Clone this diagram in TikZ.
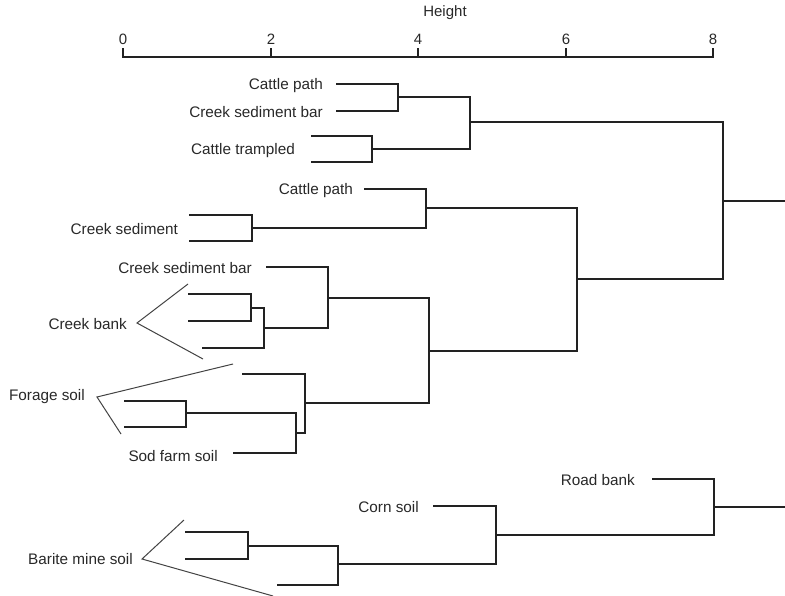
\documentclass[tikz,border=0pt]{standalone}
\usepackage{fontspec}
\setmainfont{Liberation Sans}
\definecolor{ink}{RGB}{34,34,34}
\definecolor{txt}{RGB}{40,40,40}
\begin{document}
\begin{tikzpicture}[x=1pt,y=-1pt,
  tree/.style={draw=ink,line width=2pt,line cap=rect,line join=miter},
  brace/.style={draw=ink!85,line width=1pt},
  lab/.style={anchor=east,inner sep=0pt,yshift=-1.5pt,text=txt,font=\fontsize{15.3}{18}\selectfont},
  ticklab/.style={inner sep=0pt,text=txt,font=\fontsize{15}{18}\selectfont}]
\useasboundingbox (0,0) rectangle (785,596);
% axis
\node[ticklab] (htitle) at (445,13) {Height};
\coordinate (t0) at (123,57);
\coordinate (t8) at (713,57);
\draw[tree] (t0) -- (t8);
\foreach \v/\xx in {0/123,2/271,4/418,6/566,8/713}{
  \coordinate (tk\v) at (\xx,57);
  \draw[tree] (tk\v) -- ++(0,-8);
  \node[ticklab] (tl\v) at (\xx,39) {\v};
}
% ---------- group A ----------
\node[lab] (nA1) at (323,84) {Cattle path};
\node[lab] (nA2) at (323,111) {Creek sediment bar};
\node[lab] (nA3) at (295,149) {Cattle trampled};
\coordinate (a1) at (337,84);
\coordinate (a2) at (337,111);
\coordinate (a3) at (312,136);
\coordinate (a4) at (312,162);
\coordinate (mA1) at (398,97);
\coordinate (mA2) at (372,149);
\coordinate (mA3) at (470,122);
\draw[tree] (a1) -| (mA1) |- (a2);
\draw[tree] (a3) -| (mA2) |- (a4);
\draw[tree] (mA1) -| (mA3) |- (mA2);
% ---------- group B ----------
\node[lab] (nB1) at (353,189) {Cattle path};
\node[lab] (nB2) at (178,228) {Creek sediment};
\coordinate (b1) at (365,189);
\coordinate (b2) at (190,215);
\coordinate (b3) at (190,241);
\coordinate (mB1) at (252,228);
\coordinate (mB2) at (426,208);
\draw[tree] (b2) -| (mB1) |- (b3);
\draw[tree] (b1) -| (mB2) |- (mB1);
% creek sediment bar + creek bank
\node[lab] (nB3) at (252,267) {Creek sediment bar};
\node[lab] (nB4) at (127,323) {Creek bank};
\coordinate (b4) at (267,267);
\coordinate (b5) at (189,294);
\coordinate (b6) at (189,321);
\coordinate (b7) at (203,348);
\coordinate (mB3) at (251,308);
\coordinate (mB4) at (264,328);
\coordinate (mB5) at (328,298);
\draw[tree] (b5) -| (mB3) |- (b6);
\draw[tree] (mB3) -| (mB4) |- (b7);
\draw[tree] (b4) -| (mB5) |- (mB4);
\coordinate (cbT) at (137,323);
\coordinate (cb1) at (188,284);
\coordinate (cb2) at (203,359);
\draw[brace] (cb1) -- (cbT) -- (cb2);
% forage / sod farm
\node[lab] (nB5) at (85,395) {Forage soil};
\node[lab] (nB6) at (218,455) {Sod farm soil};
\coordinate (b8) at (243,374);
\coordinate (b9) at (125,401);
\coordinate (b10) at (125,427);
\coordinate (b11) at (234,453);
\coordinate (mB6) at (186,413);
\coordinate (mB7) at (296,433);
\coordinate (mB8) at (305,403);
\draw[tree] (b9) -| (mB6) |- (b10);
\draw[tree] (mB6) -| (mB7) |- (b11);
\draw[tree] (b8) -| (mB8) |- (mB7);
\coordinate (fsT) at (97,397);
\coordinate (fs1) at (233,364);
\coordinate (fs2) at (121,434);
\draw[brace] (fs1) -- (fsT) -- (fs2);
\coordinate (mB9) at (429,351);
\coordinate (mB10) at (577,279);
\coordinate (mB11) at (723,201);
\coordinate (rA) at (785,201);
\draw[tree] (mB5) -| (mB9) |- (mB8);
\draw[tree] (mB2) -| (mB10) |- (mB9);
\draw[tree] (mA3) -| (mB11) |- (mB10);
\draw[tree] (mB11) -- (rA);
% ---------- group C ----------
\node[lab] (nC1) at (133,558) {Barite mine soil};
\node[lab] (nC2) at (419,506) {Corn soil};
\node[lab] (nC3) at (635,479) {Road bank};
\coordinate (c1) at (186,532);
\coordinate (c2) at (186,559);
\coordinate (c3) at (278,585);
\coordinate (c4) at (434,506);
\coordinate (c5) at (653,479);
\coordinate (mC1) at (248,546);
\coordinate (mC2) at (338,564);
\coordinate (mC3) at (496,535);
\coordinate (mC4) at (714,507);
\coordinate (rC) at (785,507);
\draw[tree] (c1) -| (mC1) |- (c2);
\draw[tree] (mC1) -| (mC2) |- (c3);
\draw[tree] (c4) -| (mC3) |- (mC2);
\draw[tree] (c5) -| (mC4) |- (mC3);
\draw[tree] (mC4) -- (rC);
\coordinate (bmT) at (142,559);
\coordinate (bm1) at (184,520);
\coordinate (bm2) at (273,596);
\draw[brace] (bm1) -- (bmT) -- (bm2);
\end{tikzpicture}
\end{document}
